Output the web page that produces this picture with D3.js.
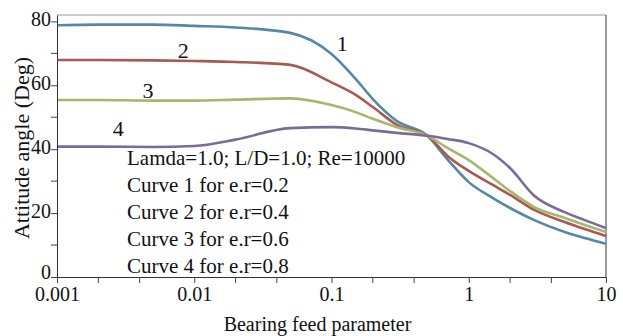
<!DOCTYPE html>
<html>
<head>
<meta charset="utf-8">
<script src="https://cdn.jsdelivr.net/npm/d3@7"></script>
<style>
  html, body { margin: 0; padding: 0; background: #fff; }
  svg { display: block; }
</style>
</head>
<body>
<svg id="chart" width="623" height="336"></svg>
<script>
// bearing feed parameter (x, log scale)
const feed = [0.001, 0.002, 0.005, 0.01, 0.02, 0.05, 0.1, 0.15, 0.2, 0.3, 0.5, 0.7, 1, 1.5, 2, 3, 5, 7, 10];

// attitude angle (deg) for each curve
const curve1 = [78.8, 79, 79, 78.6, 78.1, 76.4, 69.8, 62, 55.7, 48.8, 44.2, 36.8, 29.7, 24.7, 21.6, 17.8, 14.1, 12.2, 10.4];
const curve2 = [67.9, 67.9, 67.8, 67.6, 67.3, 66.4, 60.9, 57, 53.2, 47.6, 44.2, 37.9, 33.2, 28.8, 25.7, 21, 17.2, 15, 12.8];
const curve3 = [55.4, 55.4, 55.2, 55.2, 55.5, 55.9, 53.8, 51.6, 49.5, 46.9, 44.2, 40.4, 36.6, 31, 26.9, 21.9, 18.5, 16.3, 14.1];
const curve4 = [40.8, 40.8, 40.7, 41.0, 43.0, 46.6, 46.9, 46.5, 45.9, 45.1, 44.2, 43.2, 41.9, 38.5, 34.1, 25.4, 20.3, 17.8, 15.3];

const curveNames = ['1', '2', '3', '4'];
const curveColors = ['#5488a8', '#a85a52', '#a3b86c', '#7b6b98'];
// label anchor points (feed, angle)
const labelFeed = [0.12, 0.0083, 0.0046, 0.0028];
const labelAngle = [73, 71, 58.5, 46.6];

const xMajor = [0.001, 0.01, 0.1, 1, 10];
const xMinor = [0.002, 0.004, 0.02, 0.04, 0.2, 0.4, 2, 4];
const xTickText = ['0.001', '0.01', '0.1', '1', '10'];
const yMajor = [0, 20, 40, 60, 80];
const yMinor = [10, 30, 50, 70];

const notes = [
  'Lamda=1.0; L/D=1.0; Re=10000',
  'Curve 1 for e.r=0.2',
  'Curve 2 for e.r=0.4',
  'Curve 3 for e.r=0.6',
  'Curve 4 for e.r=0.8'
];

const svg = d3.select('#chart');
const plotLeft = 57, plotRight = 606, plotTop = 15, plotBottom = 277;
const serif = 'Times New Roman, Times, Liberation Serif, DejaVu Serif, Noto Serif, serif';

const x = d3.scaleLog().domain([0.001, 10]).range([plotLeft, plotRight]);
const y = d3.scaleLinear().domain([0, 82]).range([plotBottom, plotTop]);

svg.append('rect').attr('width', 623).attr('height', 336).attr('fill', '#fff');

// frame
svg.append('line')
  .attr('x1', plotLeft).attr('x2', plotRight).attr('y1', plotTop).attr('y2', plotTop)
  .attr('stroke', '#999').attr('stroke-width', 1);
svg.append('line')
  .attr('x1', plotRight).attr('x2', plotRight).attr('y1', plotTop).attr('y2', plotBottom)
  .attr('stroke', '#333').attr('stroke-width', 1);

// curves
const line = d3.line()
  .x(d => x(d[0]))
  .y(d => y(d[1]))
  .curve(d3.curveMonotoneX);

[curve1, curve2, curve3, curve4].forEach((vals, i) => {
  svg.append('path')
    .datum(feed.map((f, j) => [f, vals[j]]))
    .attr('d', line)
    .attr('fill', 'none')
    .attr('stroke', curveColors[i])
    .attr('stroke-width', 2.6);
});

// x axis
const xAxis = svg.append('g')
  .attr('transform', `translate(0,${plotBottom})`)
  .call(d3.axisBottom(x)
    .tickValues(xMajor)
    .tickFormat((d, i) => xTickText[i])
    .tickSize(6)
    .tickSizeOuter(0)
    .tickPadding(4));
xAxis.append('g')
  .selectAll('line')
  .data(xMinor)
  .enter()
  .append('line')
  .attr('x1', d => x(d)).attr('x2', d => x(d))
  .attr('y1', 0).attr('y2', 6)
  .attr('stroke', '#444');

// y axis
const yAxis = svg.append('g')
  .attr('transform', `translate(${plotLeft},0)`)
  .call(d3.axisLeft(y)
    .tickValues(yMajor)
    .tickSize(6)
    .tickSizeOuter(0)
    .tickPadding(0));
yAxis.append('g')
  .selectAll('line')
  .data(yMinor)
  .enter()
  .append('line')
  .attr('x1', -6).attr('x2', 0)
  .attr('y1', d => y(d)).attr('y2', d => y(d))
  .attr('stroke', '#444');
yAxis.selectAll('.tick text').attr('dy', d => d === 0 ? '0.05em' : '0.2em');

svg.selectAll('.domain').attr('stroke', '#333');
svg.selectAll('.tick line').attr('stroke', '#444');
svg.selectAll('g').attr('font-family', null);
svg.selectAll('.tick text')
  .attr('fill', '#111')
  .attr('font-size', 20);

// curve labels
curveNames.forEach((name, i) => {
  svg.append('text')
    .attr('x', x(labelFeed[i]))
    .attr('y', y(labelAngle[i]))
    .attr('text-anchor', 'middle')
    .attr('dominant-baseline', 'central')
    .attr('fill', '#111')
    .attr('font-size', 22)
    .text(name);
});

// notes
notes.forEach((t, i) => {
  svg.append('text')
    .attr('x', 127)
    .attr('y', 165 + i * 27)
    .attr('fill', '#111')
    .attr('font-size', 21)
    .text(t);
});

// axis titles
svg.append('text')
  .attr('x', (plotLeft + plotRight) / 2 - 14)
  .attr('y', 331)
  .attr('text-anchor', 'middle')
  .attr('fill', '#111')
  .attr('font-size', 20)
  .text('Bearing feed parameter');

svg.append('text')
  .attr('transform', 'translate(29,148) rotate(-90)')
  .attr('text-anchor', 'middle')
  .attr('fill', '#111')
  .attr('font-size', 22)
  .text('Attitude angle (Deg)');

svg.selectAll('text').style('font-family', serif);
</script>
</body>
</html>
